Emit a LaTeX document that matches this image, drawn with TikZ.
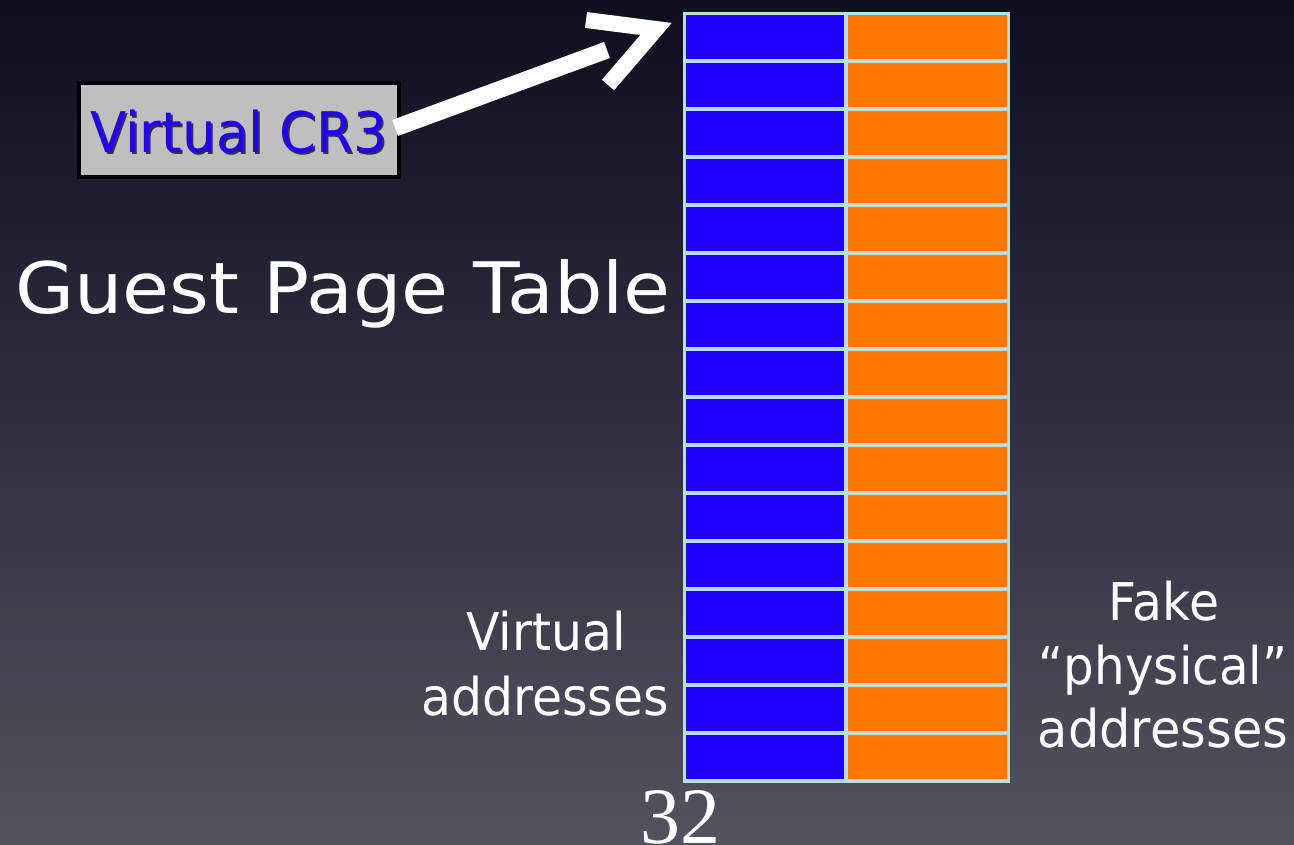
\documentclass[tikz,border=0pt]{standalone}
\usepackage{fontspec}
\usepackage{graphicx}
\setmainfont{DejaVu Sans}
\newfontfamily\serifdigits{Liberation Serif}
\definecolor{bgtop}{RGB}{13,14,30}
\definecolor{bgbot}{RGB}{82,82,97}
\definecolor{gridc}{RGB}{184,224,226}
\definecolor{vblue}{RGB}{34,0,255}
\definecolor{forange}{RGB}{255,119,0}
\definecolor{boxgray}{RGB}{191,191,191}
\tikzset{
  bcell/.style={fill=vblue, inner sep=0, minimum width=158pt, minimum height=44pt, anchor=north west},
  ocell/.style={fill=forange, inner sep=0, minimum width=159pt, minimum height=44pt, anchor=north west},
  label/.style={text=white, inner sep=0, align=center},
  arrowline/.style={draw=white, line cap=butt, line join=miter}
}
\begin{document}
\begin{tikzpicture}[x=1pt,y=-1pt]
\useasboundingbox (0,0) rectangle (1294,845);
\shade[top color=bgtop, bottom color=bgbot] (0,0) rectangle (1294,845);
% table frame
\node[fill=gridc, inner sep=0, minimum width=327.5pt, minimum height=771pt, anchor=north west] (tbl) at (682.5,12) {};
\foreach \i in {0,...,15}{
  \node[bcell] (b\i) at (686,15+48*\i) {};
  \node[ocell] (o\i) at (848,15+48*\i) {};
}
% Virtual CR3 box
\node[draw=black, line width=4pt, fill=boxgray, minimum width=320pt, minimum height=94pt, inner sep=0] (cr3) at (239,130) {};
\node[text=black!80, inner sep=0, anchor=base west, font=\fontsize{56}{60}\selectfont] (cr3s) at (92,155) {\scalebox{0.945}[1]{Virtual CR3}};
\node[text=vblue, inner sep=0, anchor=base west, font=\fontsize{56}{60}\selectfont] (cr3t) at (90,153) {\scalebox{0.945}[1]{Virtual CR3}};
% arrow
\coordinate (s1) at (395,128);
\coordinate (s2) at (607,50);
\coordinate (h1) at (586,20);
\coordinate (hv) at (656,29);
\coordinate (h2) at (608,85);
\draw[arrowline, line width=17pt] (s1) -- (s2);
\draw[arrowline, line width=16pt] (h1) -- (hv) -- (h2);
% labels
\node[label, anchor=base west, font=\fontsize{71}{75}\selectfont] (title) at (15,313) {\scalebox{1.076}[1]{Guest Page Table}};
\node[label, anchor=base, font=\fontsize{52}{65}\selectfont] (va1) at (546,650) {\scalebox{0.94}[1]{Virtual}};
\node[label, anchor=base, font=\fontsize{52}{65}\selectfont] (va2) at (545,715) {\scalebox{0.94}[1]{addresses}};
\node[label, anchor=base, font=\fontsize{52}{63}\selectfont] (fp1) at (1164,620) {\scalebox{0.94}[1]{Fake}};
\node[label, anchor=base, font=\fontsize{52}{63}\selectfont] (fp2) at (1163,684) {\scalebox{0.93}[1]{“physical”}};
\node[label, anchor=base, font=\fontsize{52}{63}\selectfont] (fp3) at (1163,747) {\scalebox{0.95}[1]{addresses}};
\node[label, anchor=base, font=\serifdigits\fontsize{80}{80}\selectfont] (num) at (680,843) {32};
\end{tikzpicture}
\end{document}
